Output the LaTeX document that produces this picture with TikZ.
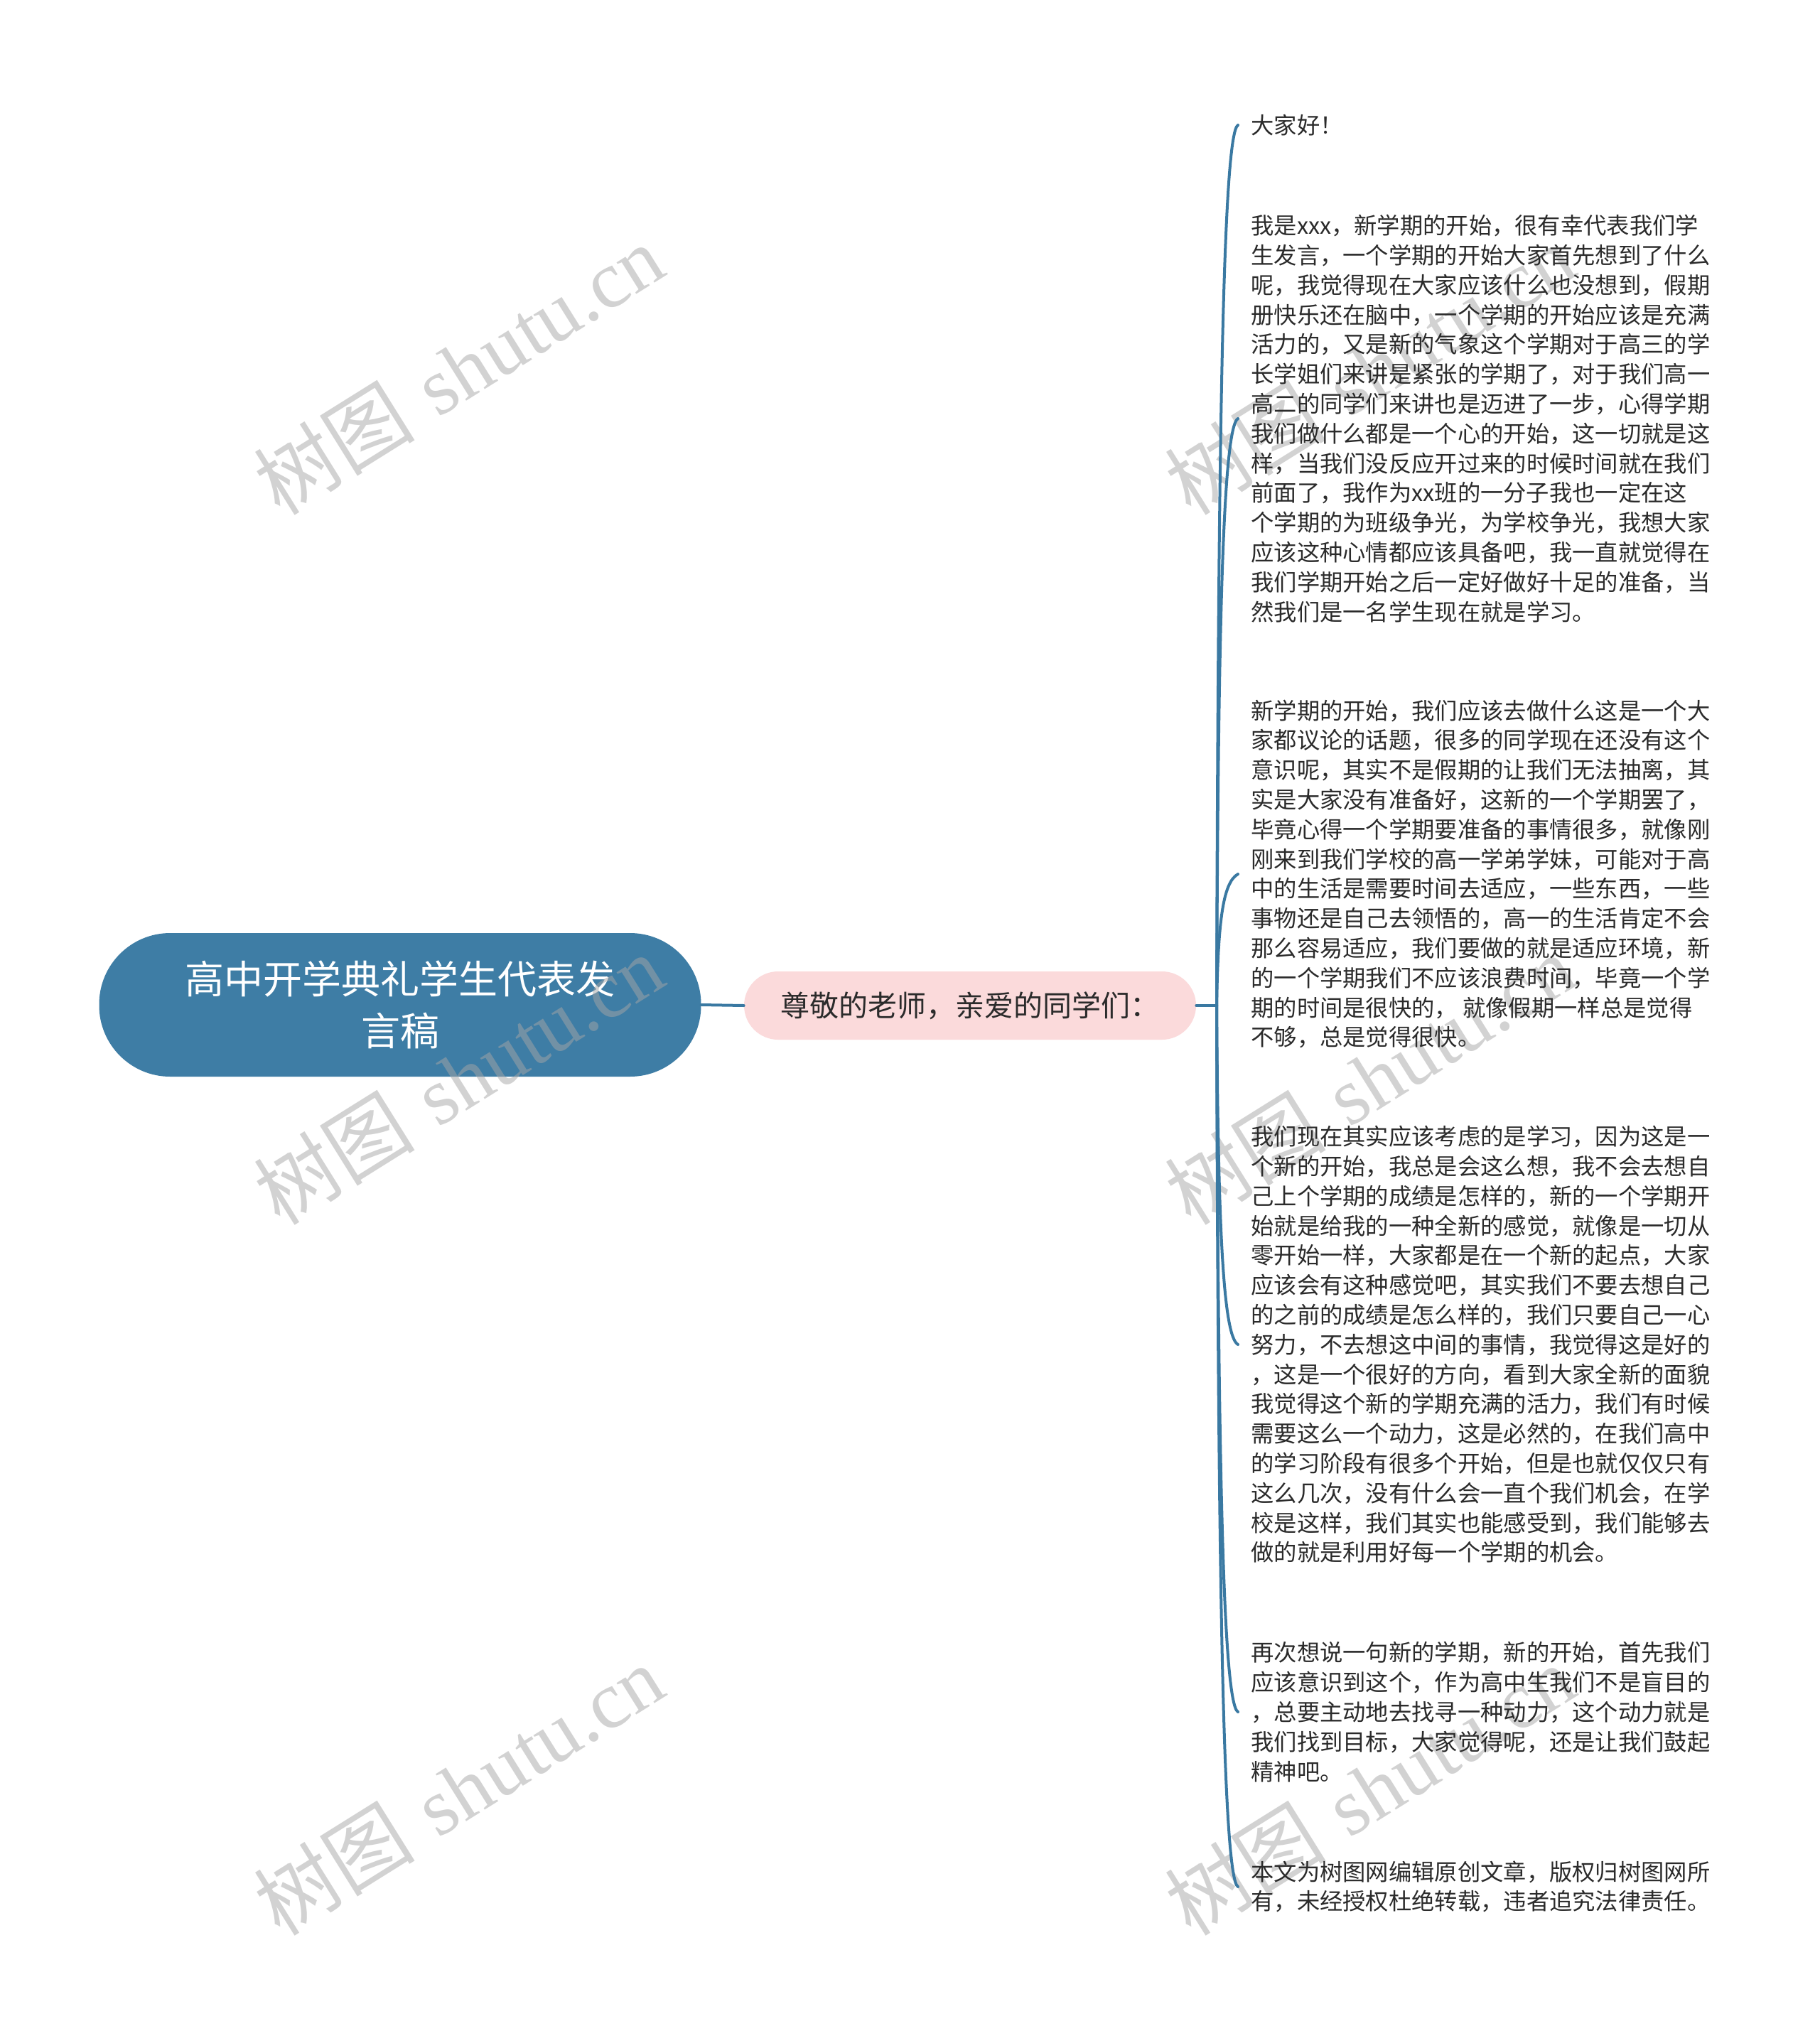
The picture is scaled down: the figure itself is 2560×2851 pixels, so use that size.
\documentclass[tikz,border=0pt]{standalone}
\usepackage{fontspec}
\newfontfamily\cjk{Noto Sans CJK SC}
\newfontfamily\wmlatin{Liberation Serif}
\usetikzlibrary{calc}
\definecolor{rootblue}{HTML}{3E7DA5}
\definecolor{linkblue}{HTML}{3A79A2}
\definecolor{subpink}{HTML}{FBDADB}
\definecolor{leaftext}{HTML}{2B2B2B}
\begin{document}
\begin{tikzpicture}[x=0.5pt,y=-0.5pt,
  rootnode/.style={rounded corners=50pt, fill=rootblue, text=white, minimum width=423.5pt, minimum height=101pt, align=center, inner sep=0pt, font=\cjk\fontsize{27.5pt}{36.5pt}\selectfont},
  subnode/.style={rounded corners=24pt, fill=subpink, text=leaftext, minimum width=318pt, minimum height=48pt, inner sep=0pt, font=\cjk\fontsize{20.5pt}{24pt}\selectfont},
  leafnode/.style={anchor=west, align=left, text=leaftext, inner xsep=9pt, inner ysep=0pt, font=\cjk\fontsize{16.15pt}{20.9pt}\selectfont},
  link/.style={draw=linkblue, line width=2pt, line cap=round},
  wm/.style={rotate=32, text=black!35, text opacity=0.5, font=\fontsize{57pt}{57pt}\selectfont}
]
\useasboundingbox (0,0) rectangle (2560,2851);
\fill[white] (0,0) rectangle (2560,2851);

\node[rootnode] (root) at (563,1414) {高中开学典礼学生代表发\\言稿};
\node[subnode] (sub) at (1365,1415) {尊敬的老师，亲爱的同学们：};

% watermarks
\foreach \wx/\wy [count=\i] in {645/520, 645/1519, 645/2519, 1927/520, 1927/1519, 1927/2519}
  \node[wm] (wm\i) at (\wx,\wy) {{\cjk 树图} {\wmlatin shutu.cn}};

\node[leafnode] (L1) at (1742,176) {大家好！};
\node[leafnode] (L2) at (1742,589) {我是xxx，新学期的开始，很有幸代表我们学\\
生发言，一个学期的开始大家首先想到了什么\\
呢，我觉得现在大家应该什么也没想到，假期\\
册快乐还在脑中，一个学期的开始应该是充满\\
活力的，又是新的气象这个学期对于高三的学\\
长学姐们来讲是紧张的学期了，对于我们高一\\
高二的同学们来讲也是迈进了一步，心得学期\\
我们做什么都是一个心的开始，这一切就是这\\
样，当我们没反应开过来的时候时间就在我们\\
前面了，我作为xx班的一分子我也一定在这\\
个学期的为班级争光，为学校争光，我想大家\\
应该这种心情都应该具备吧，我一直就觉得在\\
我们学期开始之后一定好做好十足的准备，当\\
然我们是一名学生现在就是学习。};
\node[leafnode] (L3) at (1742,1230) {新学期的开始，我们应该去做什么这是一个大\\
家都议论的话题，很多的同学现在还没有这个\\
意识呢，其实不是假期的让我们无法抽离，其\\
实是大家没有准备好，这新的一个学期罢了，\\
毕竟心得一个学期要准备的事情很多，就像刚\\
刚来到我们学校的高一学弟学妹，可能对于高\\
中的生活是需要时间去适应，一些东西，一些\\
事物还是自己去领悟的，高一的生活肯定不会\\
那么容易适应，我们要做的就是适应环境，新\\
的一个学期我们不应该浪费时间，毕竟一个学\\
期的时间是很快的， 就像假期一样总是觉得\\
不够，总是觉得很快。};
\node[leafnode] (L4) at (1742,1892) {我们现在其实应该考虑的是学习，因为这是一\\
个新的开始，我总是会这么想，我不会去想自\\
己上个学期的成绩是怎样的，新的一个学期开\\
始就是给我的一种全新的感觉，就像是一切从\\
零开始一样，大家都是在一个新的起点，大家\\
应该会有这种感觉吧，其实我们不要去想自己\\
的之前的成绩是怎么样的，我们只要自己一心\\
努力，不去想这中间的事情，我觉得这是好的\\
，这是一个很好的方向，看到大家全新的面貌\\
我觉得这个新的学期充满的活力，我们有时候\\
需要这么一个动力，这是必然的，在我们高中\\
的学习阶段有很多个开始，但是也就仅仅只有\\
这么几次，没有什么会一直个我们机会，在学\\
校是这样，我们其实也能感受到，我们能够去\\
做的就是利用好每一个学期的机会。};
\node[leafnode] (L5) at (1742,2409) {再次想说一句新的学期，新的开始，首先我们\\
应该意识到这个，作为高中生我们不是盲目的\\
，总要主动地去找寻一种动力，这个动力就是\\
我们找到目标，大家觉得呢，还是让我们鼓起\\
精神吧。};
\node[leafnode] (L6) at (1742,2655) {本文为树图网编辑原创文章，版权归树图网所\\
有，未经授权杜绝转载，违者追究法律责任。};

\coordinate (J) at (1712,1415);
\draw[link] (root.east) -- (sub.west);
\draw[link] (sub.east) -- (J);
\foreach \n in {L1,L2,L3}
  \draw[link] (J) .. controls ($(J)!0.615!(J|-\n.west)+(2,0)$) and ($(J|-\n.west)+(8,12)$) .. (\n.west);
\foreach \n in {L4,L5,L6}
  \draw[link] (J) .. controls ($(J)!0.615!(J|-\n.west)+(2,0)$) and ($(J|-\n.west)+(8,-12)$) .. (\n.west);
\end{tikzpicture}
\end{document}
